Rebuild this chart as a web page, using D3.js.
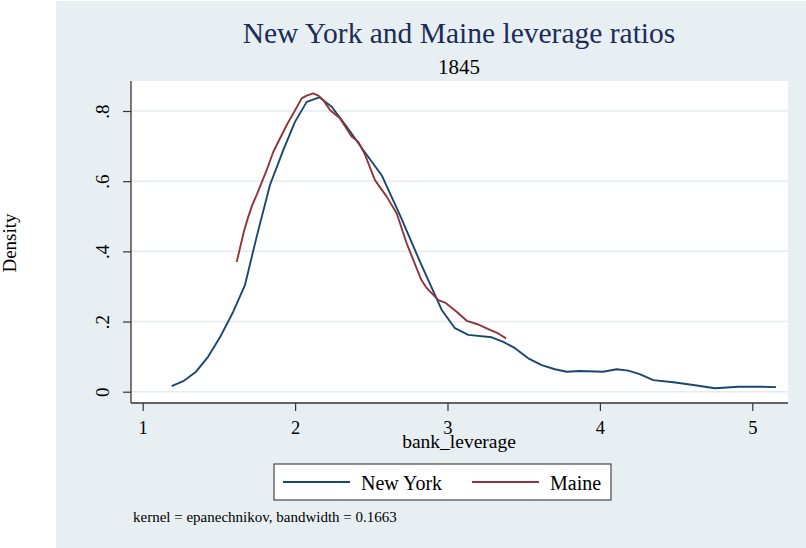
<!DOCTYPE html>
<html>
<head>
<meta charset="utf-8">
<script src="https://cdn.jsdelivr.net/npm/d3@7/dist/d3.min.js"></script>
<style>
  html, body { margin: 0; padding: 0; background: #ffffff; }
  svg { display: block; }
  text { font-family: "Liberation Serif", "Times New Roman", serif; }
</style>
</head>
<body>
<svg id="chart" width="806" height="548"></svg>
<script>
// Kernel density estimates of bank leverage, 1845
const nyX = [1.190, 1.266, 1.350, 1.430, 1.507, 1.594, 1.671, 1.748, 1.835, 1.923,
             1.999, 2.076, 2.159, 2.240, 2.339, 2.447, 2.568, 2.688, 2.820, 2.962,
             3.049, 3.136, 3.290, 3.366, 3.443, 3.530, 3.618, 3.705, 3.782, 3.869,
             4.022, 4.110, 4.186, 4.261, 4.350, 4.482, 4.613, 4.755, 4.908, 5.062, 5.156];
const nyDensity = [0.016, 0.030, 0.057, 0.100, 0.155, 0.228, 0.304, 0.442, 0.589, 0.689,
                   0.769, 0.826, 0.839, 0.812, 0.755, 0.689, 0.617, 0.503, 0.370, 0.233,
                   0.181, 0.162, 0.155, 0.142, 0.124, 0.095, 0.076, 0.064, 0.057, 0.059,
                   0.057, 0.064, 0.060, 0.050, 0.033, 0.027, 0.019, 0.010, 0.014, 0.014, 0.013];

const meX = [1.617, 1.638, 1.665, 1.693, 1.720, 1.748, 1.814, 1.857, 1.923, 1.945, 1.988, 2.043,
             2.076, 2.119, 2.152, 2.185, 2.229, 2.262, 2.295, 2.371, 2.415, 2.459,
             2.524, 2.601, 2.667, 2.732, 2.776, 2.828, 2.864, 2.940, 2.984, 3.060,
             3.126, 3.192, 3.279, 3.333, 3.384];
const meDensity = [0.370, 0.409, 0.458, 0.499, 0.533, 0.561, 0.632, 0.684, 0.741, 0.760, 0.793, 0.836,
                   0.844, 0.850, 0.844, 0.831, 0.803, 0.791, 0.779, 0.727, 0.712, 0.675,
                   0.603, 0.556, 0.508, 0.423, 0.375, 0.319, 0.295, 0.261, 0.254, 0.228,
                   0.202, 0.193, 0.176, 0.166, 0.152];

const xTicks = [1, 2, 3, 4, 5];
const yTicks = [0, 0.2, 0.4, 0.6, 0.8];
const yTickLabels = ["0", ".2", ".4", ".6", ".8"];
const seriesNames = ["New York", "Maine"];
const seriesColors = ["#1a476f", "#90353b"];

const titleText = "New York and Maine leverage ratios";
const subtitleText = "1845";
const xTitle = "bank_leverage";
const yTitle = "Density";
const noteText = "kernel = epanechnikov, bandwidth = 0.1663";

const svg = d3.select("#chart");
const plot = { left: 131, right: 788, top: 81, bottom: 403 };

// graph region background
svg.append("rect").attr("x", 56).attr("y", 1).attr("width", 750).attr("height", 547)
  .attr("fill", "#e8eff2");

// plot region
svg.append("rect").attr("x", plot.left).attr("y", plot.top)
  .attr("width", plot.right - plot.left).attr("height", plot.bottom - plot.top)
  .attr("fill", "#ffffff");

const x = d3.scaleLinear().domain([0.9232, 5.2343]).range([plot.left, plot.right]);
const y = d3.scaleLinear().domain([-0.0322, 0.8855]).range([plot.bottom, plot.top]);

// horizontal grid lines
svg.append("g").selectAll("line").data(yTicks).join("line")
  .attr("x1", plot.left).attr("x2", plot.right)
  .attr("y1", d => y(d)).attr("y2", d => y(d))
  .attr("stroke", "#e4ecef").attr("stroke-width", 1.5);

// density curves
const series = [
  { name: seriesNames[0], xs: nyX, ys: nyDensity, color: seriesColors[0] },
  { name: seriesNames[1], xs: meX, ys: meDensity, color: seriesColors[1] }
];
const line = d3.line().x(d => x(d[0])).y(d => y(d[1]));
svg.append("g").selectAll("path").data(series).join("path")
  .attr("d", s => line(s.xs.map((v, i) => [v, s.ys[i]])))
  .attr("fill", "none")
  .attr("stroke", s => s.color)
  .attr("stroke-width", 1.9)
  .attr("stroke-linejoin", "round");

// y axis
const yAxis = d3.axisLeft(y).tickValues(yTicks).tickSize(8).tickFormat("");
const gy = svg.append("g").attr("transform", `translate(${plot.left},0)`).call(yAxis);
gy.select(".domain").attr("d", `M0,${plot.top}V${plot.bottom}`).attr("stroke", "#333").attr("stroke-width", 1.3);
gy.selectAll(".tick line").attr("stroke", "#333").attr("stroke-width", 1.2);
gy.selectAll(".tick").append("text")
  .attr("transform", "translate(-22,0) rotate(-90)")
  .attr("text-anchor", "middle")
  .attr("fill", "#000")
  .attr("font-size", 19)
  .text((d, i) => yTickLabels[i]);

// x axis
const xAxis = d3.axisBottom(x).tickValues(xTicks).tickSize(8).tickFormat("");
const gx = svg.append("g").attr("transform", `translate(0,${plot.bottom})`).call(xAxis);
gx.select(".domain").attr("d", `M${plot.left},0H${plot.right}`).attr("stroke", "#333").attr("stroke-width", 1.3);
gx.selectAll(".tick line").attr("stroke", "#333").attr("stroke-width", 1.2);
gx.selectAll(".tick").append("text")
  .attr("y", 31)
  .attr("text-anchor", "middle")
  .attr("fill", "#000")
  .attr("font-size", 18.5)
  .text(d => d3.format("d")(d));

// titles
svg.append("text").attr("x", 459).attr("y", 43).attr("text-anchor", "middle")
  .attr("font-size", 29.5).attr("fill", "#1c2b59").text(titleText);
svg.append("text").attr("x", 459).attr("y", 74).attr("text-anchor", "middle")
  .attr("font-size", 21).attr("fill", "#000").text(subtitleText);
svg.append("text").attr("x", 459).attr("y", 448).attr("text-anchor", "middle")
  .attr("font-size", 19.5).attr("fill", "#000").text(xTitle);
svg.append("text").attr("transform", "translate(16,243) rotate(-90)").attr("text-anchor", "middle")
  .attr("font-size", 19).attr("fill", "#000").text(yTitle);

// legend
const legend = svg.append("g");
legend.append("rect").attr("x", 274).attr("y", 464).attr("width", 337).attr("height", 36)
  .attr("fill", "#ffffff").attr("stroke", "#555").attr("stroke-width", 1.3);
const legendX = [283, 472];
const items = legend.selectAll("g").data(series).join("g")
  .attr("transform", (d, i) => `translate(${legendX[i]},482)`);
items.append("line").attr("x1", 0).attr("x2", 67).attr("y1", 0).attr("y2", 0)
  .attr("stroke", d => d.color).attr("stroke-width", 1.9);
items.append("text").attr("x", 78).attr("y", 8).attr("font-size", 20).attr("fill", "#000")
  .text(d => d.name);

// note
svg.append("text").attr("x", 133).attr("y", 522).attr("font-size", 15).attr("fill", "#000")
  .text(noteText);
</script>
</body>
</html>
